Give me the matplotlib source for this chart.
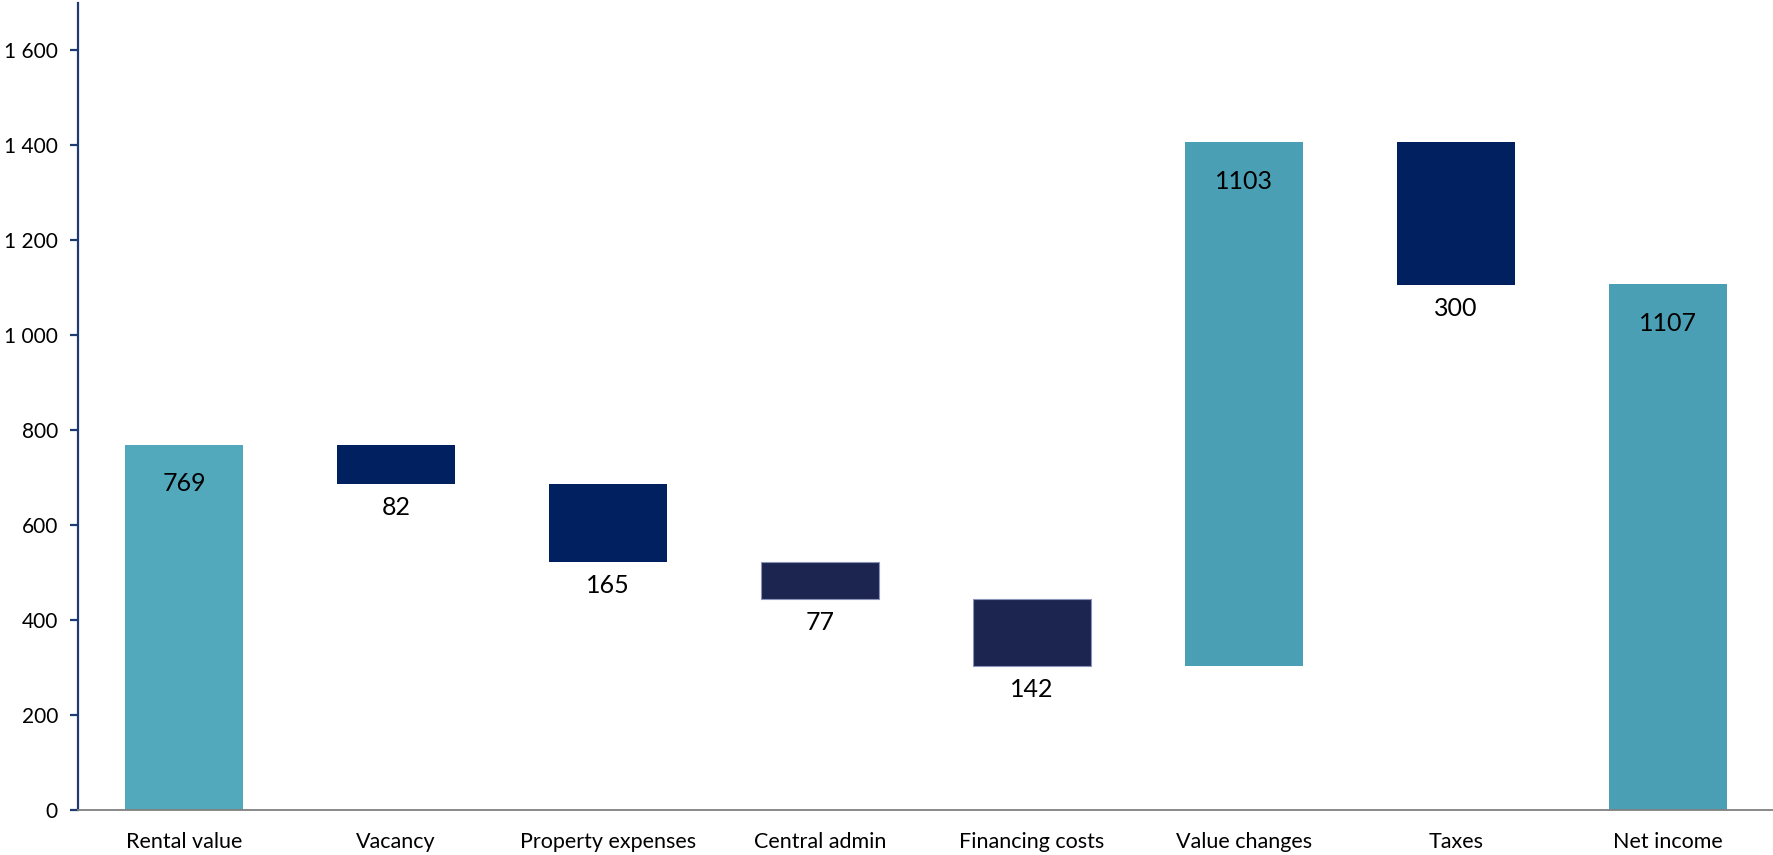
import matplotlib.pyplot as plt
from matplotlib.ticker import FuncFormatter, MultipleLocator

categories = ['Rental value', 'Vacancy', 'Property expenses', 'Central admin',
              'Financing costs', 'Value changes', 'Taxes', 'Net income']
# signed steps of the bridge; the last bar is the resulting total
steps = [769, -82, -165, -77, -142, 1103, -300]
net_income = 1107

colors = ['#52A9BC', '#002060', '#002060', '#1B2550',
          '#1B2550', '#4A9FB4', '#002060', '#4A9FB4']
edges = ['none', 'none', 'none', '#8C93B8', '#8C93B8', 'none', 'none', 'none']

plt.rcParams['font.family'] = ['Lato', 'DejaVu Sans']

bottoms, heights = [], []
level = 0
for s in steps:
    if s >= 0:
        bottoms.append(level)
    else:
        bottoms.append(level + s)
    heights.append(abs(s))
    level += s
bottoms.append(0)
heights.append(net_income)
labels = [abs(s) for s in steps] + [net_income]

fig = plt.figure(figsize=(17.74, 8.55), dpi=100)
ax = fig.add_axes([0.044, 0.0526, 0.956, 0.944])

x = list(range(len(categories)))
ax.bar(x, heights, bottom=bottoms, width=0.556, color=colors,
       edgecolor=edges, linewidth=0.8)

for i, (b, h, lab) in enumerate(zip(bottoms, heights, labels)):
    up = i == 0 or i == len(categories) - 1 or steps[i] > 0
    if up:
        ax.annotate(str(lab), (i, b + h), xytext=(0, -28), textcoords='offset points',
                    ha='center', va='center', fontsize=18, color='black')
    else:
        ax.annotate(str(lab), (i, b), xytext=(0, -17), textcoords='offset points',
                    ha='center', va='center', fontsize=18, color='black')

ax.set_xlim(-0.5, 7.5)
ax.set_ylim(0, 1700)
ax.yaxis.set_major_locator(MultipleLocator(200))
ax.yaxis.set_major_formatter(FuncFormatter(lambda v, p: f'{int(v):,}'.replace(',', ' ')))
ax.set_xticks(x)
ax.set_xticklabels(categories, fontsize=15.5)
ax.tick_params(axis='x', length=0, pad=16)
ax.tick_params(axis='y', labelsize=15, length=5.5, width=1.6, color='#1F3B73', pad=9)

for side in ('top', 'right'):
    ax.spines[side].set_visible(False)
ax.spines['left'].set_color('#1F3B73')
ax.spines['left'].set_linewidth(1.6)
ax.spines['bottom'].set_color('#808080')
ax.spines['bottom'].set_linewidth(1.3)

fig.savefig('out.png', dpi=100)
